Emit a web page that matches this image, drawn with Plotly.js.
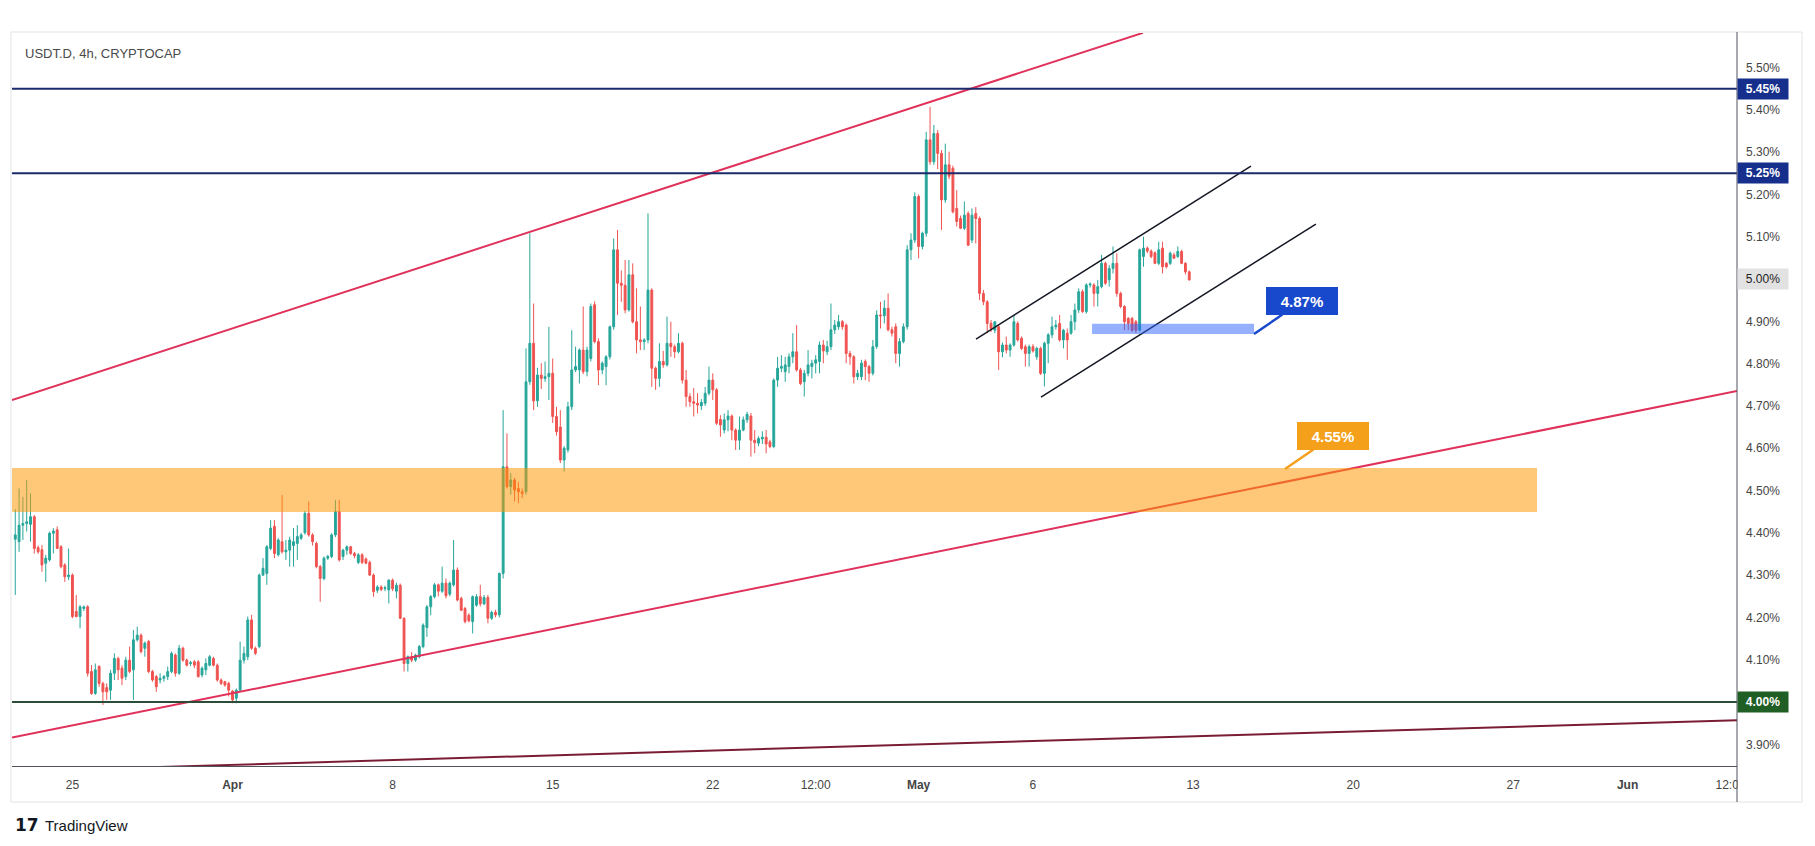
<!DOCTYPE html>
<html><head><meta charset="utf-8">
<script src="https://cdn.plot.ly/plotly-3.0.1.min.js"></script>
<style>html,body{margin:0;padding:0;background:#fff;} #chart{width:1815px;height:846px;}</style>
</head><body><div id="chart"></div>
<script>
// ---------- data ----------
const symbolTitle = "USDT.D, 4h, CRYPTOCAP";
const barStart = "2024-03-22T12:00:00Z";   // first 4h bar shown
const barHours = 4;

const open = [
4.385,4.379,4.418,4.422,4.420,4.438,4.365,4.360,4.328,4.336,
4.399,4.407,4.367,4.324,4.296,4.300,4.214,4.202,4.221,4.225,
4.072,4.020,4.084,4.044,4.034,4.028,4.068,4.103,4.080,4.060,
4.099,4.076,4.147,4.158,4.127,4.143,4.072,4.060,4.052,4.056,
4.060,4.072,4.111,4.068,4.127,4.099,4.091,4.095,4.095,4.064,
4.076,4.087,4.103,4.087,4.052,4.048,4.044,4.026,4.009,4.028,
4.099,4.107,4.194,4.127,4.131,4.300,4.304,4.363,4.415,4.348,
4.379,4.355,4.359,4.370,4.375,4.387,4.400,4.446,4.395,4.375,
4.320,4.292,4.340,4.344,4.395,4.450,4.344,4.359,4.367,4.351,
4.330,4.348,4.338,4.330,4.300,4.264,4.272,4.268,4.265,4.288,
4.262,4.276,4.198,4.091,4.107,4.099,4.107,4.131,4.176,4.225,
4.249,4.277,4.262,4.281,4.255,4.277,4.312,4.245,4.221,4.205,
4.190,4.229,4.249,4.232,4.247,4.198,4.212,4.206,4.304,4.556,
4.509,4.525,4.505,4.497,4.497,4.757,4.848,4.712,4.773,4.765,
4.769,4.777,4.675,4.650,4.572,4.596,4.698,4.785,4.785,4.832,
4.781,4.812,4.939,4.852,4.785,4.793,4.816,4.887,5.069,4.990,
4.985,4.927,5.010,4.899,4.856,4.852,4.856,4.974,4.789,4.765,
4.805,4.797,4.848,4.840,4.828,4.848,4.761,4.722,4.710,4.706,
4.700,4.706,4.730,4.761,4.738,4.668,4.643,4.667,4.676,4.643,
4.619,4.643,4.667,4.676,4.619,4.612,4.622,4.626,4.615,4.604,
4.761,4.789,4.781,4.793,4.816,4.828,4.785,4.757,4.777,4.793,
4.801,4.805,4.844,4.828,4.840,4.880,4.887,4.899,4.891,4.824,
4.816,4.769,4.769,4.805,4.793,4.777,4.840,4.915,4.913,4.931,
4.880,4.887,4.824,4.852,4.887,5.069,5.092,5.195,5.077,5.108,
5.329,5.277,5.344,5.297,5.187,5.270,5.262,5.167,5.143,5.120,
5.155,5.092,5.155,5.143,4.966,4.946,4.895,4.879,4.887,4.828,
4.844,4.832,4.844,4.895,4.860,4.840,4.824,4.840,4.816,4.836,
4.777,4.848,4.868,4.887,4.895,4.856,4.872,4.872,4.899,4.927,
4.970,4.923,4.986,4.986,4.966,4.982,5.037,4.998,5.025,5.037,
4.966,4.935,4.907,4.907,4.899,4.879,5.053,5.073,5.066,5.062,
5.037,5.073,5.037,5.037,5.057,5.053,5.065,5.037,5.017];

const high = [
4.456,4.505,4.485,4.525,4.493,4.442,4.370,4.371,4.348,4.403,
4.411,4.415,4.371,4.328,4.363,4.304,4.253,4.229,4.228,4.229,
4.087,4.091,4.087,4.048,4.044,4.076,4.115,4.107,4.087,4.107,
4.131,4.170,4.178,4.162,4.143,4.147,4.076,4.064,4.068,4.064,
4.084,4.119,4.115,4.135,4.131,4.103,4.097,4.099,4.099,4.084,
4.103,4.111,4.107,4.091,4.056,4.050,4.048,4.028,4.032,4.143,
4.131,4.202,4.206,4.131,4.304,4.340,4.371,4.430,4.430,4.387,
4.489,4.383,4.391,4.411,4.418,4.400,4.452,4.474,4.399,4.379,
4.324,4.344,4.348,4.399,4.478,4.478,4.362,4.370,4.369,4.355,
4.352,4.352,4.342,4.334,4.304,4.276,4.276,4.275,4.290,4.292,
4.282,4.280,4.200,4.110,4.118,4.114,4.135,4.186,4.229,4.253,
4.281,4.280,4.320,4.292,4.285,4.383,4.318,4.249,4.225,4.210,
4.252,4.255,4.277,4.253,4.253,4.216,4.218,4.306,4.690,4.635,
4.541,4.530,4.520,4.505,4.836,5.108,4.942,4.790,4.801,4.805,
4.887,4.812,4.698,4.690,4.605,4.710,4.879,4.840,4.836,4.935,
4.840,4.942,4.947,4.860,4.805,4.820,4.890,5.096,5.116,5.020,
5.045,5.045,5.037,4.978,4.935,4.860,5.155,4.978,4.793,4.848,
4.830,4.911,4.899,4.845,4.872,4.852,4.785,4.730,4.742,4.730,
4.716,4.745,4.793,4.777,4.742,4.678,4.682,4.690,4.680,4.647,
4.675,4.675,4.686,4.683,4.643,4.628,4.640,4.643,4.620,4.765,
4.816,4.820,4.816,4.824,4.872,4.891,4.790,4.785,4.832,4.809,
4.820,4.852,4.856,4.854,4.942,4.903,4.915,4.903,4.895,4.830,
4.820,4.785,4.809,4.810,4.797,4.856,4.926,4.946,4.950,4.966,
4.887,4.895,4.860,4.895,5.080,5.108,5.205,5.200,5.112,5.348,
5.407,5.364,5.352,5.305,5.320,5.301,5.268,5.210,5.150,5.183,
5.160,5.167,5.170,5.148,4.974,4.950,4.903,4.900,4.893,4.850,
4.864,4.848,4.915,4.900,4.864,4.845,4.845,4.846,4.840,4.840,
4.852,4.872,4.911,4.903,4.915,4.882,4.883,4.915,4.942,4.978,
4.975,4.990,4.992,4.990,4.998,5.057,5.041,5.033,5.077,5.061,
4.970,4.938,4.910,4.910,4.903,5.072,5.100,5.077,5.070,5.065,
5.088,5.088,5.040,5.065,5.062,5.077,5.069,5.040,5.020];

const low = [
4.253,4.355,4.383,4.403,4.379,4.351,4.350,4.308,4.284,4.332,
4.351,4.363,4.316,4.284,4.288,4.198,4.200,4.174,4.215,4.060,
4.017,4.017,4.036,3.993,4.005,4.005,4.052,4.052,4.040,4.052,
4.068,4.005,4.143,4.115,4.107,4.068,4.048,4.024,4.044,4.048,
4.052,4.068,4.060,4.064,4.095,4.084,4.085,4.080,4.058,4.058,
4.064,4.084,4.084,4.048,4.040,4.036,4.013,3.997,3.997,4.024,
4.091,4.099,4.123,4.111,4.127,4.298,4.277,4.359,4.340,4.344,
4.351,4.336,4.320,4.320,4.336,4.383,4.396,4.391,4.370,4.316,
4.237,4.288,4.336,4.340,4.390,4.332,4.336,4.348,4.348,4.340,
4.326,4.326,4.326,4.298,4.249,4.258,4.262,4.262,4.233,4.262,
4.245,4.196,4.072,4.072,4.094,4.095,4.103,4.127,4.154,4.205,
4.245,4.250,4.258,4.245,4.250,4.273,4.238,4.215,4.186,4.188,
4.162,4.225,4.226,4.229,4.186,4.194,4.200,4.200,4.292,4.505,
4.490,4.474,4.470,4.482,4.490,4.750,4.690,4.698,4.740,4.757,
4.714,4.660,4.630,4.565,4.545,4.590,4.690,4.780,4.753,4.775,
4.770,4.805,4.848,4.749,4.775,4.749,4.810,4.880,4.915,4.946,
4.919,4.923,4.895,4.824,4.832,4.832,4.848,4.745,4.738,4.745,
4.790,4.793,4.816,4.813,4.824,4.753,4.698,4.698,4.675,4.682,
4.690,4.700,4.725,4.714,4.655,4.627,4.635,4.640,4.619,4.596,
4.596,4.640,4.660,4.580,4.588,4.605,4.610,4.588,4.600,4.600,
4.745,4.780,4.757,4.777,4.801,4.781,4.749,4.722,4.770,4.765,
4.777,4.777,4.801,4.820,4.832,4.870,4.880,4.880,4.801,4.797,
4.753,4.761,4.761,4.761,4.757,4.772,4.835,4.883,4.895,4.876,
4.864,4.801,4.793,4.848,4.880,5.045,5.085,5.049,5.070,5.100,
5.270,5.270,5.260,5.116,5.180,5.236,5.155,5.124,5.118,5.116,
5.078,5.085,5.084,4.950,4.938,4.872,4.875,4.872,4.785,4.815,
4.824,4.816,4.840,4.852,4.832,4.793,4.793,4.826,4.809,4.773,
4.746,4.801,4.860,4.880,4.852,4.836,4.809,4.868,4.879,4.920,
4.920,4.918,4.980,4.935,4.935,4.978,4.986,4.982,5.013,4.958,
4.931,4.879,4.879,4.875,4.872,4.876,5.029,5.061,5.049,5.035,
5.033,5.013,5.025,5.033,5.048,5.050,5.035,5.011,4.996];

const close = [
4.395,4.418,4.422,4.426,4.438,4.363,4.355,4.324,4.340,4.399,
4.404,4.363,4.320,4.296,4.300,4.202,4.202,4.225,4.225,4.068,
4.020,4.076,4.044,4.024,4.024,4.068,4.103,4.076,4.056,4.099,
4.072,4.147,4.158,4.119,4.139,4.072,4.052,4.036,4.056,4.060,
4.072,4.115,4.068,4.127,4.099,4.087,4.093,4.087,4.060,4.080,
4.091,4.107,4.087,4.052,4.044,4.040,4.028,4.005,4.028,4.099,
4.115,4.194,4.127,4.115,4.300,4.316,4.367,4.411,4.351,4.383,
4.355,4.359,4.383,4.379,4.391,4.395,4.446,4.395,4.379,4.320,
4.292,4.340,4.344,4.395,4.450,4.336,4.359,4.367,4.351,4.346,
4.348,4.330,4.328,4.300,4.261,4.272,4.266,4.270,4.288,4.268,
4.276,4.198,4.091,4.107,4.099,4.111,4.131,4.182,4.225,4.249,
4.277,4.262,4.281,4.251,4.281,4.312,4.241,4.217,4.190,4.192,
4.249,4.249,4.232,4.247,4.198,4.212,4.206,4.304,4.556,4.509,
4.525,4.501,4.497,4.493,4.757,4.848,4.712,4.773,4.765,4.769,
4.777,4.675,4.639,4.572,4.600,4.698,4.785,4.793,4.832,4.781,
4.832,4.935,4.852,4.785,4.801,4.816,4.887,5.069,4.990,4.985,
4.927,5.010,4.899,4.856,4.852,4.856,4.974,4.789,4.765,4.805,
4.797,4.848,4.840,4.828,4.848,4.761,4.722,4.710,4.706,4.702,
4.708,4.730,4.761,4.738,4.659,4.655,4.667,4.676,4.643,4.619,
4.643,4.667,4.680,4.619,4.613,4.623,4.626,4.610,4.604,4.761,
4.789,4.793,4.797,4.816,4.828,4.785,4.753,4.777,4.797,4.801,
4.809,4.844,4.830,4.840,4.880,4.891,4.899,4.887,4.824,4.816,
4.769,4.777,4.801,4.793,4.777,4.840,4.915,4.913,4.931,4.880,
4.872,4.824,4.852,4.887,5.069,5.092,5.195,5.077,5.108,5.329,
5.277,5.344,5.297,5.187,5.270,5.243,5.159,5.136,5.120,5.151,
5.080,5.151,5.143,4.966,4.946,4.895,4.883,4.899,4.828,4.844,
4.832,4.844,4.899,4.856,4.836,4.824,4.840,4.830,4.836,4.777,
4.848,4.868,4.887,4.891,4.856,4.879,4.856,4.899,4.927,4.970,
4.923,4.986,4.988,4.966,4.982,5.037,4.990,5.025,5.037,4.966,
4.935,4.899,4.895,4.879,4.879,5.069,5.073,5.066,5.053,5.037,
5.069,5.029,5.029,5.061,5.049,5.065,5.037,5.017,4.998];

// horizontal levels
const levelValues = [5.45, 5.25, 4.00];
const levelTexts  = ["5.45%", "5.25%", "4.00%"];
const lastPriceValue = 5.00;
const lastPriceText = "5.00%";

// trend lines (drawn objects)
const upperRedX = ["2024-03-22 08:35", "2024-05-10 19:27"];
const upperRedY = [4.714, 5.582];
const lowerRedX = ["2024-03-22 08:35", "2024-06-05 18:50"];
const lowerRedY = [3.916, 4.735];
const maroonX   = ["2024-03-22 08:35", "2024-06-05 18:50"];
const maroonY   = [3.836, 3.957];
const chanUpX   = ["2024-05-03 12:15", "2024-05-15 12:45"];
const chanUpY   = [4.858, 5.267];
const chanLoX   = ["2024-05-06 08:25", "2024-05-18 08:55"];
const chanLoY   = [4.721, 5.130];

// zones
const orangeZoneX = ["2024-03-22 08:35", "2024-05-28 01:00"];
const orangeZoneY = [4.449, 4.553];
const blueZoneX   = ["2024-05-08 14:00", "2024-05-15 16:00"];
const blueZoneY   = [4.870, 4.894];

// callouts
const calloutTexts = ["4.87%", "4.55%"];
const calloutX = ["2024-05-15 16:00", "2024-05-17 00:30"];
const calloutY = [4.870, 4.551];

// axes
const xRange = ["2024-03-22 08:35", "2024-06-05 18:50"];
const yRange = [3.8487, 5.5816];
const xTickVals = ["2024-03-25","2024-04-01","2024-04-08","2024-04-15","2024-04-22","2024-04-26 12:00",
                   "2024-05-01","2024-05-06","2024-05-13","2024-05-20","2024-05-27","2024-06-01","2024-06-05 12:00"];
const xTickText = ["25","<b>Apr</b>","8","15","22","12:00","<b>May</b>","6","13","20","27","<b>Jun</b>","12:00"];
const yTickVals = [3.9,4.0,4.1,4.2,4.3,4.4,4.5,4.6,4.7,4.8,4.9,5.0,5.1,5.2,5.3,5.4,5.5];
const yTickText = yTickVals.map(v => v.toFixed(2) + "%");

// ---------- build ----------
function fmt(ms){ return new Date(ms).toISOString().slice(0,16).replace('T',' '); }
const t0 = Date.parse(barStart);
const times = open.map((_, i) => fmt(t0 + i * barHours * 3600e3));

const FONT = "Liberation Sans, Arial, sans-serif";
const GREEN = "#26a69a", RED = "#ef5350";

const traces = [
  {type:'candlestick', x:times, open:open, high:high, low:low, close:close,
   increasing:{line:{color:GREEN, width:1}, fillcolor:GREEN},
   decreasing:{line:{color:RED, width:1}, fillcolor:RED},
   whiskerwidth:0, hoverinfo:'skip', showlegend:false},
  {type:'scatter', mode:'lines', x:maroonX, y:maroonY, line:{color:'#7a1c34', width:2}, hoverinfo:'skip', showlegend:false},
  {type:'scatter', mode:'lines', x:upperRedX, y:upperRedY, line:{color:'#e0315b', width:2}, hoverinfo:'skip', showlegend:false},
  {type:'scatter', mode:'lines', x:lowerRedX, y:lowerRedY, line:{color:'#e0315b', width:2}, hoverinfo:'skip', showlegend:false},
  {type:'scatter', mode:'lines', x:chanUpX, y:chanUpY, line:{color:'#131722', width:1.5}, hoverinfo:'skip', showlegend:false},
  {type:'scatter', mode:'lines', x:chanLoX, y:chanLoY, line:{color:'#131722', width:1.5}, hoverinfo:'skip', showlegend:false}
];

const levelColors = ['#1b2a6b', '#1b2a6b', '#2b4d37'];
const levelBg = ['#172f8c', '#172f8c', '#1f5e24'];

const shapes = [
  // zones
  {type:'rect', xref:'x', yref:'y', x0:orangeZoneX[0], x1:orangeZoneX[1], y0:orangeZoneY[0], y1:orangeZoneY[1],
   fillcolor:'rgba(255,152,0,0.53)', line:{width:0}, layer:'above'},
  {type:'rect', xref:'x', yref:'y', x0:blueZoneX[0], x1:blueZoneX[1], y0:blueZoneY[0], y1:blueZoneY[1],
   fillcolor:'rgba(41,98,255,0.5)', line:{width:0}, layer:'above'}
];
levelValues.forEach((v, i) => shapes.push(
  {type:'line', xref:'paper', yref:'y', x0:0, x1:1, y0:v, y1:v, line:{color:levelColors[i], width:2}, layer:'above'}));
// price-scale panel background (covers date labels that run past the plot), panel border, price axis line
shapes.push(
  {type:'rect', xref:'paper', yref:'paper', x0:1.0004, x1:1.0377, y0:-0.0491, y1:0,
   fillcolor:'#ffffff', line:{width:0}, layer:'above'},
  {type:'rect', xref:'paper', yref:'paper', x0:-0.0006, x1:1.0377, y0:-0.0491, y1:1.0014,
   line:{color:'#e3e3e3', width:1}, fillcolor:'rgba(0,0,0,0)', layer:'above'},
  {type:'line', xref:'paper', yref:'paper', x0:1, x1:1, y0:-0.0491, y1:1.0014,
   line:{color:'#50535e', width:1}, layer:'above'});

const annotations = [
  {xref:'paper', yref:'paper', x:0.0064, y:0.9727, xanchor:'left', yanchor:'middle', showarrow:false,
   text:symbolTitle, font:{family:FONT, size:13, color:'#4a4a4a'}},
  {xref:'paper', yref:'paper', x:0.0008, y:-0.0805, xanchor:'left', yanchor:'middle', showarrow:false,
   text:'<b>17</b>', font:{family:'DejaVu Sans, sans-serif', size:17, color:'#131722'}},
  {xref:'paper', yref:'paper', x:0.018, y:-0.0805, xanchor:'left', yanchor:'middle', showarrow:false,
   text:'TradingView', font:{family:FONT, size:15, color:'#131722'}}
];
levelValues.forEach((v, i) => annotations.push(
  {xref:'paper', yref:'y', x:1, y:v, xanchor:'left', yanchor:'middle', showarrow:false,
   text:'<b>' + levelTexts[i] + '</b>', font:{family:FONT, size:12, color:'#ffffff'},
   bgcolor:levelBg[i], width:46, height:16, borderpad:2, align:'center'}));
annotations.push(
  {xref:'paper', yref:'y', x:1, y:lastPriceValue, xanchor:'left', yanchor:'middle', showarrow:false,
   text:lastPriceText, font:{family:FONT, size:12, color:'#222'},
   bgcolor:'#e2e2e2', width:46, height:16, borderpad:2, align:'center'});

const calloutBg = ['#1848cc', '#f5a01a'];
calloutTexts.forEach((t, i) => annotations.push(
  {xref:'x', yref:'y', x:calloutX[i], y:calloutY[i], ax:48, ay:-33, showarrow:true,
   arrowhead:0, arrowwidth:2.5, arrowcolor:calloutBg[i], standoff:0,
   text:'<b>' + t + '</b>', font:{family:FONT, size:15, color:'#ffffff'},
   bgcolor:calloutBg[i], bordercolor:calloutBg[i], borderwidth:1, borderpad:4, width:62, height:18}));

const layout = {
  width:1815, height:846, autosize:false,
  margin:{l:12, r:78, t:33, b:80},
  paper_bgcolor:'#ffffff', plot_bgcolor:'#ffffff',
  showlegend:false, hovermode:false, dragmode:false,
  font:{family:FONT, size:12, color:'#444'},
  xaxis:{type:'date', range:xRange, rangeslider:{visible:false}, showgrid:false, zeroline:false,
         showline:true, linecolor:'#50535e', linewidth:1, ticks:'', tickvals:xTickVals, ticktext:xTickText,
         tickfont:{family:FONT, size:12, color:'#444'}, ticklabelstandoff:8, fixedrange:true},
  yaxis:{side:'right', range:yRange, showgrid:false, zeroline:false, showline:false, ticks:'',
         tickvals:yTickVals, ticktext:yTickText, tickfont:{family:FONT, size:12, color:'#444'},
         ticklabelstandoff:8, fixedrange:true},
  shapes:shapes, annotations:annotations
};

Plotly.newPlot('chart', traces, layout, {staticPlot:true, displayModeBar:false});
</script>
</body></html>
